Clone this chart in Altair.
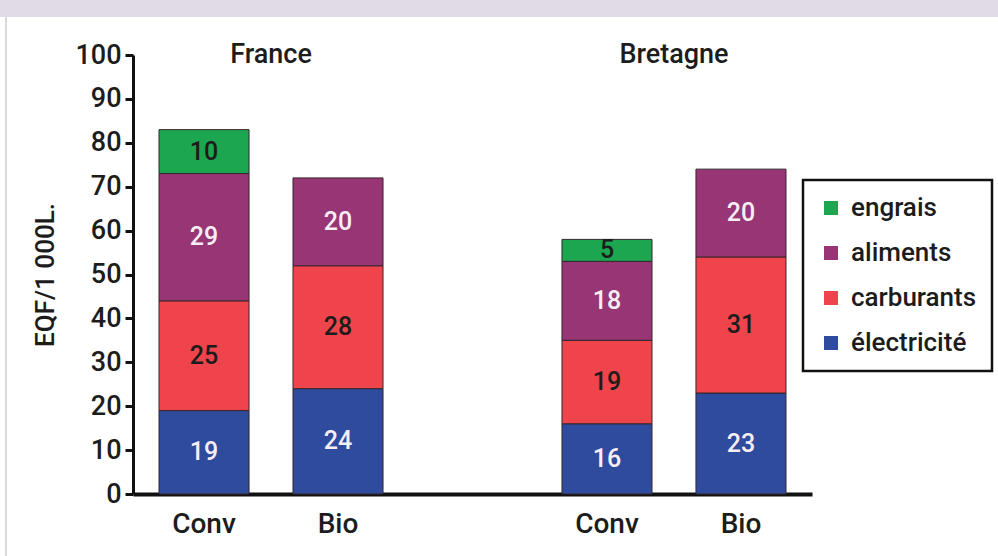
import altair as alt
import pandas as pd

# ---- data -------------------------------------------------------------
regions = ["France", "Bretagne"]
systemes = ["Conv", "Bio"]
postes = ["électricité", "carburants", "aliments", "engrais"]  # bottom -> top
france_conv = [19, 25, 29, 10]
france_bio = [24, 28, 20, None]
bretagne_conv = [16, 19, 18, 5]
bretagne_bio = [23, 31, 20, None]

legend_order = ["engrais", "aliments", "carburants", "électricité"]
legend_colors = ["#1ba64f", "#983574", "#ef444b", "#2f4b9e"]
light_text = ["aliments", "électricité"]

series = {
    ("France", "Conv"): france_conv,
    ("France", "Bio"): france_bio,
    ("Bretagne", "Conv"): bretagne_conv,
    ("Bretagne", "Bio"): bretagne_bio,
}
rows = []
for (reg, sysm), vals in series.items():
    for i, (p, v) in enumerate(zip(postes, vals)):
        if v is None:
            continue
        rows.append({"region": reg, "systeme": sysm, "poste": p, "valeur": v,
                     "ordre": i,
                     "tc": "#f7eef5" if p in light_text else "#1c1c1c"})
df = pd.DataFrame(rows)

FONT = "Roboto"

X = alt.X("region:N", sort=regions,
          scale=alt.Scale(paddingInner=0.335, paddingOuter=0.01),
          axis=alt.Axis(labels=False, ticks=False, title=None, domainColor="#111111",
                        domainWidth=4, grid=False))
XO = alt.XOffset("systeme:N", sort=systemes,
                 scale=alt.Scale(paddingInner=0.328, paddingOuter=0.164))
YS = alt.Scale(domain=[0, 100], nice=False, zero=True)

base = alt.Chart(df).transform_stack(
    stack="valeur", groupby=["region", "systeme"], as_=["v0", "v1"],
    sort=[alt.SortField("ordre", order="ascending")])

bars = base.mark_bar(stroke="#35262d", strokeWidth=1).encode(
    x=X, xOffset=XO,
    y=alt.Y("v0:Q", scale=YS,
            axis=alt.Axis(values=list(range(0, 101, 10)), title="EQF/1 000L.",
                          titleFont=FONT, titleFontSize=26, titleFontWeight=500,
                          titleColor="#1c1c1c", titlePadding=16,
                          labelFont=FONT, labelFontSize=27, labelFontWeight=500,
                          labelColor="#1c1c1c", labelPadding=4,
                          domainColor="#111111", domainWidth=3,
                          tickColor="#111111", tickWidth=3, tickSize=8, grid=False)),
    y2="v1:Q",
    color=alt.Color("poste:N", scale=alt.Scale(domain=legend_order, range=legend_colors),
                    legend=alt.Legend(title=None, orient="none", legendX=670, legendY=125,
                                      symbolType="square", symbolSize=196,
                                      symbolStrokeWidth=0, symbolOpacity=1,
                                      labelFont=FONT, labelFontSize=26,
                                      labelFontWeight=500, labelColor="#1c1c1c",
                                      rowPadding=19, labelOffset=7, padding=15,
                                      strokeColor="#111111", fillColor="white")),
)

seg_labels = base.transform_calculate(mid="(datum.v0 + datum.v1) / 2").mark_text(
    font=FONT, fontSize=25, fontWeight=500, baseline="middle", align="center").encode(
    x=X, xOffset=XO, y=alt.Y("mid:Q", scale=YS), text="valeur:Q",
    color=alt.Color("tc:N", scale=None))

reg_df = pd.DataFrame({"region": regions})
region_labels = alt.Chart(reg_df).mark_text(
    font=FONT, fontSize=27, fontWeight=500, color="#1c1c1c", baseline="middle",
    align="center").encode(x=X, y=alt.YDatum(100), text="region:N")

sys_df = pd.DataFrame([{"region": r, "systeme": s} for r in regions for s in systemes])
sys_labels = alt.Chart(sys_df).mark_text(
    font=FONT, fontSize=28, fontWeight=500, color="#1c1c1c", baseline="middle",
    align="center").encode(x=X, xOffset=XO, y=alt.YDatum(-7), text="systeme:N")

deco = pd.DataFrame({"d": [0]})
band = alt.Chart(deco).mark_rect(color="#e1dae7").encode(
    x=alt.value(-133), x2=alt.value(865), y=alt.value(-55), y2=alt.value(-38))
edge = alt.Chart(deco).mark_rule(color="#d9d9d9", strokeWidth=2).encode(
    x=alt.value(-127), y=alt.value(-38), y2=alt.value(501))

chart = alt.layer(band, edge, bars, seg_labels, region_labels, sys_labels).properties(
    width=679, height=439, autosize="none",
    padding={"left": 133, "top": 55, "right": 186, "bottom": 62},
    background="white",
).configure_view(stroke=None).configure_legend(strokeWidth=2.5)

chart.save("out.html", embed_options={"renderer": "svg", "actions": False})
